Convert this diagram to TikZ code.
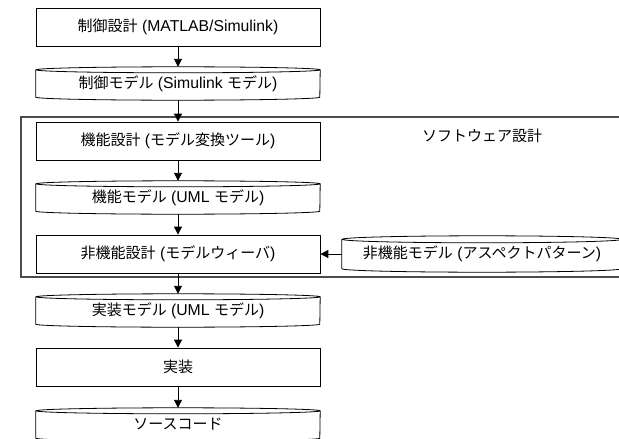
\documentclass[tikz,border=0pt]{standalone}
\usepackage{fontspec}
\setmainfont{Liberation Sans}[Scale=1.05]
\newfontfamily\jp{Noto Sans CJK JP}
\usetikzlibrary{arrows.meta}
\newcommand\drumoutline[3]{% node name, x radius, y radius
  \draw[line width=0.8pt] ([yshift=-#3pt]#1.north west) -- ([yshift=#3pt]#1.south west)
    arc[start angle=180,end angle=360,x radius=#2pt,y radius=#3pt]
    -- ([yshift=-#3pt]#1.north east)
    arc[start angle=0,end angle=180,x radius=#2pt,y radius=#3pt]
    arc[start angle=180,end angle=360,x radius=#2pt,y radius=#3pt];
}
\begin{document}
\begin{tikzpicture}[x=1pt,y=1pt,
  every node/.style={font=\fontsize{15}{18}\selectfont, text=black},
  proc/.style={draw, line width=0.8pt, minimum width=284pt, minimum height=38pt, inner sep=0pt},
  store/.style={minimum width=284pt, minimum height=33pt, inner sep=0pt},
  flow/.style={-{Triangle[length=8pt,width=8pt]}, line width=0.9pt},
  swframe/.style={draw=black!70, line width=1.3pt, minimum width=611pt, minimum height=160pt, inner sep=0pt}
]
\useasboundingbox (0,0) rectangle (619,-439);
\clip (0,0) rectangle (619,-439);
\fill[white] (0,0) rectangle (619,-439);

% software design frame
\node[swframe] (sw) at (326.5,-197) {};
\node (swlabel) at (482,-136) {\jp ソフトウェア設計};

\node[proc] (b1) at (178,-27) {{\jp 制御設計} (MATLAB/Simulink)};
\node[store] (d2) at (178,-83.5) {{\jp 制御モデル} (Simulink {\jp モデル})};
\node[proc] (b3) at (178,-141) {{\jp 機能設計} ({\jp モデル変換ツール})};
\node[store] (d4) at (178,-197.5) {{\jp 機能モデル} (UML {\jp モデル})};
\node[proc] (b5) at (178,-254) {{\jp 非機能設計} ({\jp モデルウィーバ})};
\node[store, minimum width=280pt, minimum height=36pt] (d6) at (482,-254) {{\jp 非機能モデル} ({\jp アスペクトパターン})};
\node[store] (d7) at (178,-310.5) {{\jp 実装モデル} (UML {\jp モデル})};
\node[proc] (b8) at (178,-367) {\jp 実装};
\node[store] (d9) at (178,-424.5) {\jp ソースコード};

\drumoutline{d2}{142}{3}
\drumoutline{d4}{142}{3}
\drumoutline{d6}{140}{3.5}
\drumoutline{d7}{142}{3}
\drumoutline{d9}{142}{3}

\draw[flow] (b1) -- (d2);
\draw[flow] (d2) -- (b3);
\draw[flow] (b3) -- (d4);
\draw[flow] (d4) -- (b5);
\draw[flow] (b5) -- (d7);
\draw[flow] (d7) -- (b8);
\draw[flow] (b8) -- (d9);
\draw[flow] (d6) -- (b5);
\end{tikzpicture}
\end{document}
